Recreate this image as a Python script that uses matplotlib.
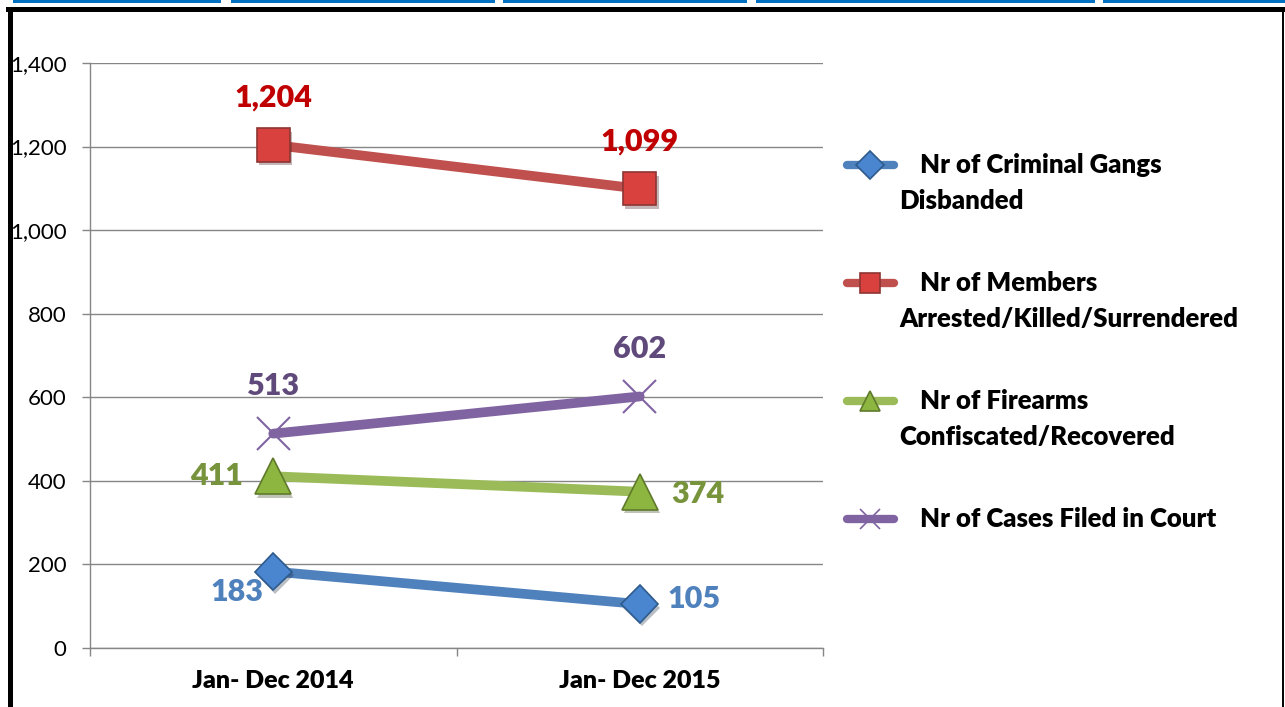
import matplotlib.pyplot as plt
from matplotlib.lines import Line2D
from matplotlib.patches import Rectangle
import matplotlib.patheffects as pe

# data
periods = ['Jan- Dec 2014', 'Jan- Dec 2015']
series_names = ['Nr of Criminal Gangs Disbanded',
                'Nr of Members Arrested/Killed/Surrendered',
                'Nr of Firearms Confiscated/Recovered',
                'Nr of Cases Filed in Court']
gangs = [183, 105]
members = [1204, 1099]
firearms = [411, 374]
cases = [513, 602]
yticks = [0, 200, 400, 600, 800, 1000, 1200, 1400]

plt.rcParams['font.family'] = ['Lato', 'DejaVu Sans']
BOLD = 800

W, H = 1285, 707
fig = plt.figure(figsize=(W / 100, H / 100), dpi=100)
ax = fig.add_axes([90 / W, 1 - 648 / H, 733 / W, 585 / H])

grid_c = '#868686'
x = list(range(len(periods)))

# style per series: line colour, marker, face, edge, label colour, marker size, label offsets
styles = [
    (gangs, '#4F81BD', 'D', '#4A86D0', '#2E5A8C', '#4F81BD', 19, [(-26, -15, 'center'), (20, 4, 'left')]),
    (members, '#C0504D', 's', '#D9413E', '#8C3533', '#C00000', 24, [(0, 34, 'center'), (0, 34, 'center')]),
    (firearms, '#9BBB59', '^', '#8DB640', '#5F7A2B', '#77933C', 26, [(-22, 0, 'right'), (23, -2, 'left')]),
    (cases, '#8064A2', 'x', '#8064A2', '#8064A2', '#604A7B', 24, [(0, 34, 'center'), (0, 34, 'center')]),
]

shadow = [pe.SimplePatchShadow(offset=(1.5, -2.5), alpha=0.3), pe.Normal()]

for vals, lc, mk, fc, ec, tc, ms, offs in styles:
    ax.plot(x, vals, color=lc, lw=7, solid_capstyle='round', zorder=3)
    ax.plot(x, vals, ls='none', marker=mk, ms=ms, mfc=fc, mec=ec,
            mew=1.2 if mk != 'x' else 1.5, zorder=4, path_effects=shadow)
    for xi, v, (dx, dy, ha) in zip(x, vals, offs):
        ax.annotate(f'{v:,}', (xi, v), xytext=(dx, dy), textcoords='offset points',
                    ha=ha, va='center', fontsize=22, fontweight=BOLD, color=tc, zorder=5)

ax.set_xlim(-0.5, 1.5)
ax.set_ylim(0, 1400)
ax.set_yticks(yticks)
ax.set_yticklabels([f'{t:,}' for t in yticks], fontsize=16)
ax.set_xticks([-0.5, 0.5, 1.5], minor=False)
ax.set_xticklabels([])
ax.set_xticks(x, minor=True)
ax.set_xticklabels(periods, minor=True, fontsize=18, fontweight=BOLD)
ax.tick_params(axis='x', which='major', length=6, color=grid_c, width=1, direction='out')
ax.tick_params(axis='x', which='minor', length=0, pad=16)
ax.tick_params(axis='y', length=6, color=grid_c, width=1, pad=11)
ax.yaxis.grid(True, color=grid_c, lw=1)
ax.set_axisbelow(True)
for s in ['top', 'right']:
    ax.spines[s].set_visible(False)
for s in ['left', 'bottom']:
    ax.spines[s].set_color(grid_c)
    ax.spines[s].set_linewidth(1)

# legend drawn by hand
leg_y = [165, 283, 401, 519]
leg_lines = [('Nr of Criminal Gangs', 'Disbanded'),
             ('Nr of Members', 'Arrested/Killed/Surrendered'),
             ('Nr of Firearms', 'Confiscated/Recovered'),
             ('Nr of Cases Filed in Court', None)]
for (vals, lc, mk, fc, ec, tc, ms, offs), yy, (l1, l2) in zip(styles, leg_y, leg_lines):
    fy = 1 - yy / H
    fig.add_artist(Line2D([847 / W, 894 / W], [fy, fy], color=lc, lw=6,
                          solid_capstyle='round'))
    fig.add_artist(Line2D([870 / W], [fy], marker=mk, ms=14,
                          mfc=fc, mec=ec, mew=1.2, ls='none'))
    fig.text(920 / W, fy, l1, fontsize=18.5, fontweight=BOLD, va='center', ha='left')
    if l2:
        fig.text(899 / W, 1 - (yy + 36) / H, l2, fontsize=18.5, fontweight=BOLD,
                 va='center', ha='left')

# outer frame and top tabs
fig.add_artist(Line2D([9.5 / W, 9.5 / W], [0, 1 - 8.5 / H], color='black', lw=3.6))
fig.add_artist(Line2D([7.5 / W, 1283 / W], [1 - 8.5 / H, 1 - 8.5 / H], color='black', lw=3.6))
fig.add_artist(Line2D([1283 / W, 1283 / W], [0, 1 - 8.5 / H], color='black', lw=1.4))
for x0, x1 in [(13, 221), (231, 495), (503, 747), (756, 1095), (1103, 1285)]:
    fig.add_artist(Rectangle((x0 / W, 1 - 3 / H), (x1 - x0) / W, 3 / H,
                             color='#0070C0', lw=0))

fig.savefig('out.png', dpi=100)
